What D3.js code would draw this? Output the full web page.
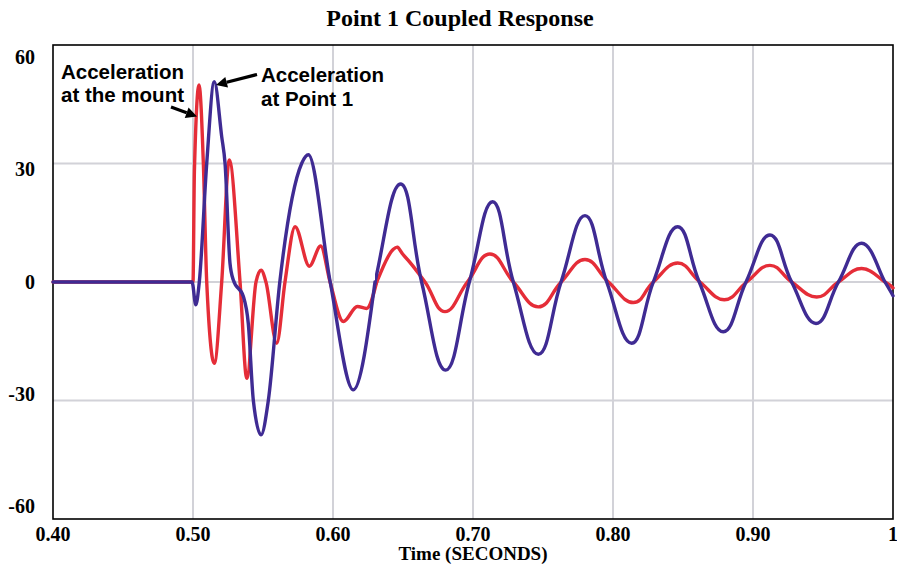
<!DOCTYPE html>
<html>
<head>
<meta charset="utf-8">
<script src="https://cdn.jsdelivr.net/npm/d3@7"></script>
<style>
  html, body { margin: 0; padding: 0; background: #ffffff; }
  svg { display: block; }
</style>
</head>
<body>
<svg id="chart" width="897" height="572"></svg>
<script>
// ---- data ----
const title = "Point 1 Coupled Response";
const xAxisTitle = "Time (SECONDS)";
const xTicks = [0.4, 0.5, 0.6, 0.7, 0.8, 0.9, 1.0];
const xTickLabels = ["0.40", "0.50", "0.60", "0.70", "0.80", "0.90", "1"];
const yTicks = [60, 30, 0, -30, -60];
const yTickLabels = ["60", "30", "0", "-30", "-60"];

// Acceleration at the mount (red)
const mountTime = [0.40, 0.45, 0.4995, 0.5, 0.501, 0.5043, 0.5074, 0.5098, 0.5152, 0.5205, 0.5259, 0.5336, 0.5384, 0.545, 0.5486, 0.5521, 0.5598, 0.5657, 0.5729, 0.5831, 0.5912, 0.5979, 0.6074, 0.6174, 0.624, 0.6312, 0.6431, 0.6514, 0.6657, 0.68, 0.696, 0.7121, 0.7288, 0.7467, 0.763, 0.78, 0.7967, 0.8145, 0.8288, 0.8462, 0.8621, 0.8795, 0.8955, 0.9121, 0.9276, 0.9455, 0.961, 0.9776, 0.9943, 1.0];
const mountAccel = [0, 0, 0, 0, 28, 49.9, 30, 0, -20.6, 0, 30.9, 0, -24.4, 0, 3.0, 0, -15.5, 0, 14, 4, 9.1, 0, -10, -6.2, -6.7, 0, 8.3, 6.4, 0, -7.5, 0, 7.1, 0, -6.3, 0, 5.7, 0, -5.2, 0, 4.8, 0, -4.5, 0, 4.2, 0, -3.8, 0, 3.4, 0, -1.5];

// Acceleration at Point 1 (purple)
const pointTime = [0.40, 0.45, 0.4993, 0.502, 0.5045, 0.5098, 0.5152, 0.5205, 0.5229, 0.5264, 0.5288, 0.536, 0.5395, 0.5431, 0.5486, 0.5538, 0.562, 0.5776, 0.5824, 0.598, 0.6145, 0.630, 0.6483, 0.6633, 0.6805, 0.6974, 0.714, 0.7288, 0.7467, 0.7629, 0.78, 0.7955, 0.8133, 0.8288, 0.8462, 0.8616, 0.8788, 0.895, 0.9121, 0.9276, 0.945, 0.961, 0.9776, 0.9943, 1.0];
const pointAccel = [0, 0, 0, -5.8, 0, 30, 50.7, 36.8, 30, 4.8, 0.5, -3.7, -10.5, -30, -38.7, -30, 0, 30, 32.2, 0, -27.3, 0, 24.8, 0, -22.3, 0, 20.3, 0, -18.3, 0, 16.8, 0, -15.5, 0, 14, 0, -12.6, 0, 11.9, 0, -10.5, 0, 9.8, 0, -3.5];

// ---- layout ----
const svg = d3.select("#chart");
const L = 53, R = 893, T = 45, B = 519;
const x = d3.scaleLinear().domain([0.4, 1.0]).range([L, R]);
const y = d3.scaleLinear().domain([-60, 60]).range([B, T]);
const yLab = d3.scaleLinear().domain([-60, 60]).range([513, 64]);

const serif = "'Liberation Serif', 'Times New Roman', serif";
const sans = "'Liberation Sans', Arial, sans-serif";

// grid
const gridColor = "#d2d2d8";
svg.append("g").selectAll("line")
  .data(xTicks.filter(t => t > 0.4 && t < 1.0))
  .join("line")
  .attr("x1", d => x(d)).attr("x2", d => x(d))
  .attr("y1", T).attr("y2", B)
  .attr("stroke", gridColor).attr("stroke-width", 2);
svg.append("g").selectAll("line")
  .data(yTicks.filter(v => v > -60 && v < 60))
  .join("line")
  .attr("x1", L).attr("x2", R)
  .attr("y1", d => y(d)).attr("y2", d => y(d))
  .attr("stroke", gridColor).attr("stroke-width", 2);

// frame
svg.append("rect")
  .attr("x", L).attr("y", T).attr("width", R - L).attr("height", B - T)
  .attr("fill", "none").attr("stroke", "#000").attr("stroke-width", 1.6);

// series: transient drawn with a monotone curve, the decaying ringing with a smooth cardinal curve
const lineMono = d3.line().curve(d3.curveMonotoneX).x(d => x(d[0])).y(d => y(d[1]));
const lineRing = d3.line().curve(d3.curveCardinal.tension(-0.3)).x(d => x(d[0])).y(d => y(d[1]));
const defs = svg.append("defs");

function drawSeries(id, times, vals, color) {
  const pts = times.map((t, i) => [t, vals[i]]);
  const split = pts.findIndex(p => p[0] >= 0.629);
  const xs = x(pts[split][0]);
  defs.append("clipPath").attr("id", id)
    .append("rect").attr("x", xs).attr("y", 0).attr("width", 897 - xs).attr("height", 572);
  const g = svg.append("g").attr("fill", "none").attr("stroke", color)
    .attr("stroke-width", 3.4).attr("stroke-linejoin", "round").attr("stroke-linecap", "round");
  g.append("path").attr("d", lineMono(pts.slice(0, split + 1)));
  g.append("path").attr("d", lineRing(pts.slice(split - 1))).attr("clip-path", `url(#${id})`);
}
drawSeries("clipMount", mountTime, mountAccel, "#e52d38");
drawSeries("clipPoint", pointTime, pointAccel, "#3f2b93");

// tick labels
svg.append("g").selectAll("text")
  .data(xTicks)
  .join("text")
  .attr("x", d => x(d)).attr("y", 541)
  .attr("text-anchor", "middle")
  .attr("font-family", serif).attr("font-weight", "bold").attr("font-size", 20)
  .text((d, i) => xTickLabels[i]);
svg.append("g").selectAll("text")
  .data(yTicks)
  .join("text")
  .attr("x", 35).attr("y", d => yLab(d))
  .attr("text-anchor", "end")
  .attr("font-family", serif).attr("font-weight", "bold").attr("font-size", 20)
  .text((d, i) => yTickLabels[i]);

// titles
svg.append("text")
  .attr("x", 460).attr("y", 26)
  .attr("text-anchor", "middle")
  .attr("font-family", serif).attr("font-weight", "bold").attr("font-size", 24)
  .text(title);
svg.append("text")
  .attr("x", (L + R) / 2).attr("y", 560)
  .attr("text-anchor", "middle")
  .attr("font-family", serif).attr("font-weight", "bold").attr("font-size", 19)
  .text(xAxisTitle);

// annotations
function annot(lines, x0, y0, dy) {
  const t = svg.append("text")
    .attr("font-family", sans).attr("font-weight", "bold").attr("font-size", 20.5)
    .attr("fill", "#000");
  lines.forEach((s, i) => t.append("tspan").attr("x", x0).attr("y", y0 + i * dy).text(s));
}
annot(["Acceleration", "at the mount"], 61, 79, 23);
annot(["Acceleration", "at Point 1"], 261, 82, 24);

function arrow(x1, y1, x2, y2) {
  const ang = Math.atan2(y2 - y1, x2 - x1);
  const len = 11, w = 5.5;
  const bx = x2 - len * Math.cos(ang), by = y2 - len * Math.sin(ang);
  svg.append("line")
    .attr("x1", x1).attr("y1", y1).attr("x2", bx).attr("y2", by)
    .attr("stroke", "#000").attr("stroke-width", 3.2);
  const px = -Math.sin(ang), py = Math.cos(ang);
  svg.append("path")
    .attr("d", `M${x2},${y2}L${bx + px * w},${by + py * w}L${bx - px * w},${by - py * w}Z`)
    .attr("fill", "#000");
}
arrow(171, 107, 197, 116.5);
arrow(257, 74.5, 216, 85);
</script>
</body>
</html>
